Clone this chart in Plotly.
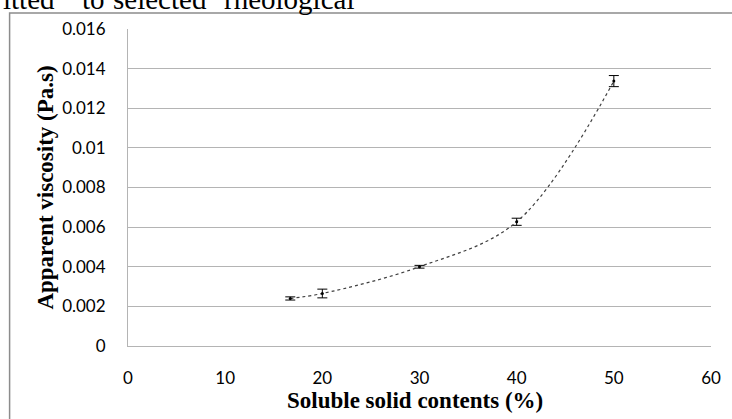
import plotly.graph_objects as go

# Data
ssc = [16.7, 20, 30, 40, 50]                       # Soluble solid contents (%)
viscosity = [0.00240, 0.00265, 0.00400, 0.00627, 0.01337]   # Apparent viscosity (Pa.s)
err = [0.00008, 0.00022, 0.00007, 0.00018, 0.00028]

x_ticks = [0, 10, 20, 30, 40, 50, 60]
y_ticks = [0, 0.002, 0.004, 0.006, 0.008, 0.01, 0.012, 0.014, 0.016]
y_tick_labels = ["0", "0.002", "0.004", "0.006", "0.008", "0.01", "0.012", "0.014", "0.016"]

x_title = "Soluble solid contents (%)"
y_title = "Apparent viscosity (Pa.s)"
header_words = ["itted", "to", "selected", "rheological"]
header_x = [0, 79, 110, 222]

W, H = 732, 419
L, R, T, B = 127.5, 21, 29, 73
pw = W - L - R
ph = H - T - B

def px_to_paper_x(px):
    return (px - L) / pw

def px_to_paper_y(py):
    return (H - B - py) / ph

fig = go.Figure()
fig.add_trace(go.Scatter(
    x=ssc, y=viscosity,
    mode="lines+markers",
    line=dict(color="#404040", width=1.2, dash="dot", shape="spline", smoothing=1),
    marker=dict(color="#000000", size=3),
    error_y=dict(type="data", array=err, visible=True, color="#000000", thickness=1, width=5),
    showlegend=False,
))

grid = "#b4b4b4"
fig.update_layout(
    width=W, height=H,
    margin=dict(l=L, r=R, t=T, b=B, pad=0),
    paper_bgcolor="white", plot_bgcolor="white",
    xaxis=dict(range=[0, 60], tickvals=x_ticks, showgrid=False, zeroline=False,
               showline=True, linecolor=grid, linewidth=1,
               tickfont=dict(family="Lato", size=17, color="#000000"),
               ticks="", ticklabelstandoff=17, fixedrange=True),
    yaxis=dict(range=[0, 0.016], tickvals=y_ticks, ticktext=y_tick_labels,
               showgrid=True, gridcolor=grid, gridwidth=1, zeroline=False,
               showline=True, linecolor=grid, linewidth=1,
               tickfont=dict(family="Lato", size=17, color="#000000"),
               ticks="", ticklabelstandoff=18, fixedrange=True),
)

# Axis titles
fig.add_annotation(text="<b>" + x_title + "</b>", xref="paper", yref="paper",
                   x=px_to_paper_x(415), y=px_to_paper_y(400), xanchor="center", yanchor="middle",
                   showarrow=False, font=dict(family="Liberation Serif", size=23, color="#000000"))
fig.add_annotation(text="<b>" + y_title + "</b>", xref="paper", yref="paper",
                   x=px_to_paper_x(44), y=px_to_paper_y(188), xanchor="center", yanchor="middle",
                   textangle=-90, showarrow=False,
                   font=dict(family="Liberation Serif", size=23, color="#000000"))

# Partial document text above the chart (cropped at the top edge)
for word, wx in zip(header_words, header_x):
    fig.add_annotation(text=word, xref="paper", yref="paper",
                       x=px_to_paper_x(wx), y=px_to_paper_y(17), xanchor="left", yanchor="bottom",
                       showarrow=False, font=dict(family="Liberation Serif", size=29, color="#000000"))

# Chart frame border
fig.add_shape(type="rect", xref="paper", yref="paper",
              x0=px_to_paper_x(9), y0=px_to_paper_y(440), x1=px_to_paper_x(760), y1=px_to_paper_y(13),
              line=dict(color="#8c8c8c", width=1.5), fillcolor="rgba(0,0,0,0)", layer="below")

fig.write_html("out.html", config={"displayModeBar": False},
               post_script="document.body.style.margin='0';document.body.style.overflow='hidden';")
